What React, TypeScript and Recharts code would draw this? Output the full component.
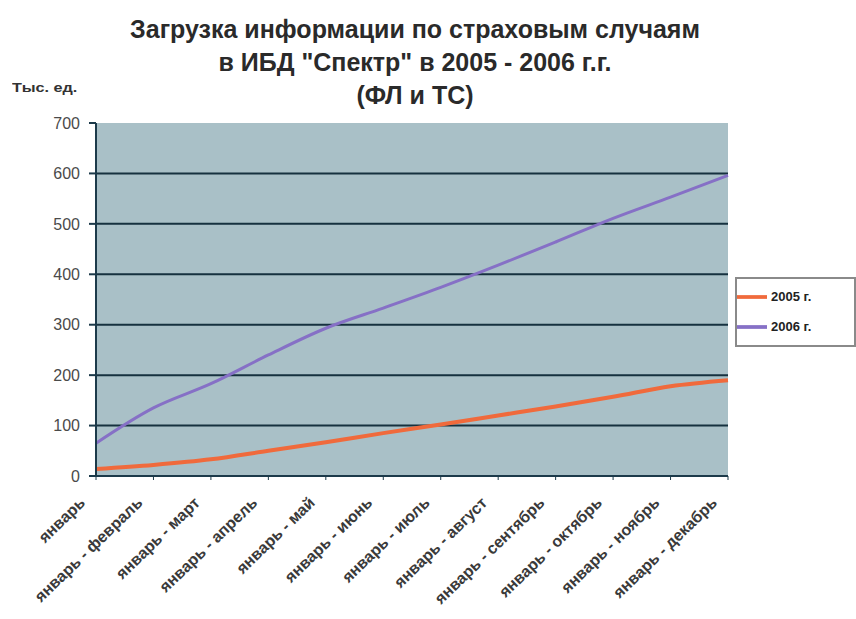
import React from "react";
import { LineChart, Line, XAxis, YAxis, CartesianGrid, Legend } from "recharts";

const categories = [
  "январь",
  "январь - февраль",
  "январь - март",
  "январь - апрель",
  "январь - май",
  "январь - июнь",
  "январь - июль",
  "январь - август",
  "январь - сентябрь",
  "январь - октябрь",
  "январь - ноябрь",
  "январь - декабрь",
];
const series2005 = [14, 22, 33, 50, 67, 85, 102, 120, 138, 157, 178, 190];
const series2006 = [65, 135, 183, 240, 293, 333, 374, 418, 464, 511, 553, 596];
const yTicks = [0, 100, 200, 300, 400, 500, 600, 700];
const gridValues = [100, 200, 300, 400, 500, 600];

const data = categories.map((c, i) => ({ name: c, y2005: series2005[i], y2006: series2006[i] }));

const XTick = (props: any) => {
  const { x, y, payload } = props;
  const ax = x - 10;
  const ay = y + 22;
  return (
    <text
      x={ax}
      y={ay}
      transform={`rotate(-44, ${ax}, ${ay})`}
      textAnchor="end"
      fontFamily="Arial, 'Liberation Sans', sans-serif"
      fontWeight="bold"
      fontSize={16}
      fill="#3a3a3a"
    >
      {payload.value}
    </text>
  );
};

export default function App() {
  return (
    <div style={{ position: "absolute", left: 0, top: 0, width: 856, height: 619, background: "#fff", fontFamily: "Arial, 'Liberation Sans', sans-serif" }}>
      <div
        style={{
          position: "absolute",
          left: 0,
          top: 13,
          width: 830,
          textAlign: "center",
          fontWeight: "bold",
          fontSize: 25,
          lineHeight: "33px",
          color: "#2a2a2a",
        }}
      >
        Загрузка информации по страховым случаям
        <br />в ИБД "Спектр" в 2005 - 2006 г.г.
        <br />(ФЛ и ТС)
      </div>
      <div
        style={{
          position: "absolute",
          left: 12,
          top: 81,
          fontSize: 12,
          fontWeight: "bold",
          color: "#333",
          transform: "scaleX(1.35)",
          transformOrigin: "left center",
          whiteSpace: "nowrap",
        }}
      >
        Тыс. ед.
      </div>
      <LineChart width={856} height={619} data={data} margin={{ top: 123, right: 128, bottom: 13, left: 40 }}>
        <CartesianGrid
          horizontal
          vertical={false}
          horizontalValues={gridValues}
          fill="#a9c0c7"
          stroke="#16313f"
          strokeWidth={2}
        />
        <XAxis
          dataKey="name"
          interval={0}
          height={130}
          tick={<XTick />}
          axisLine={{ stroke: "#1c3a4a", strokeWidth: 2 }}
          tickLine={{ stroke: "#1c3a4a" }}
          tickSize={4}
        />
        <YAxis
          domain={[0, 700]}
          ticks={yTicks}
          width={56}
          tick={{ fontSize: 16, fill: "#4a4a4a" }}
          tickMargin={9}
          axisLine={{ stroke: "#1c3a4a", strokeWidth: 2 }}
          tickLine={{ stroke: "#1c3a4a", strokeWidth: 2 }}
          tickSize={7}
        />
        <Legend
          layout="vertical"
          align="center"
          verticalAlign="middle"
          iconType="plainline"
          iconSize={30}
          formatter={(v: any) => <span style={{ color: "#222", fontWeight: "bold", fontSize: 13 }}>{v}</span>}
          wrapperStyle={{
            left: 735,
            top: 277,
            width: 117,
            border: "2px solid #8a8a8a",
            background: "#fff",
            padding: "3px 0px",
            lineHeight: "20px",
          }}
        />
        <Line
          type="monotone"
          dataKey="y2005"
          name="2005 г."
          stroke="#f06a3c"
          strokeWidth={4}
          dot={false}
          isAnimationActive={false}
        />
        <Line
          type="monotone"
          dataKey="y2006"
          name="2006 г."
          stroke="#8670c6"
          strokeWidth={3}
          dot={false}
          isAnimationActive={false}
        />
      </LineChart>
    </div>
  );
}
